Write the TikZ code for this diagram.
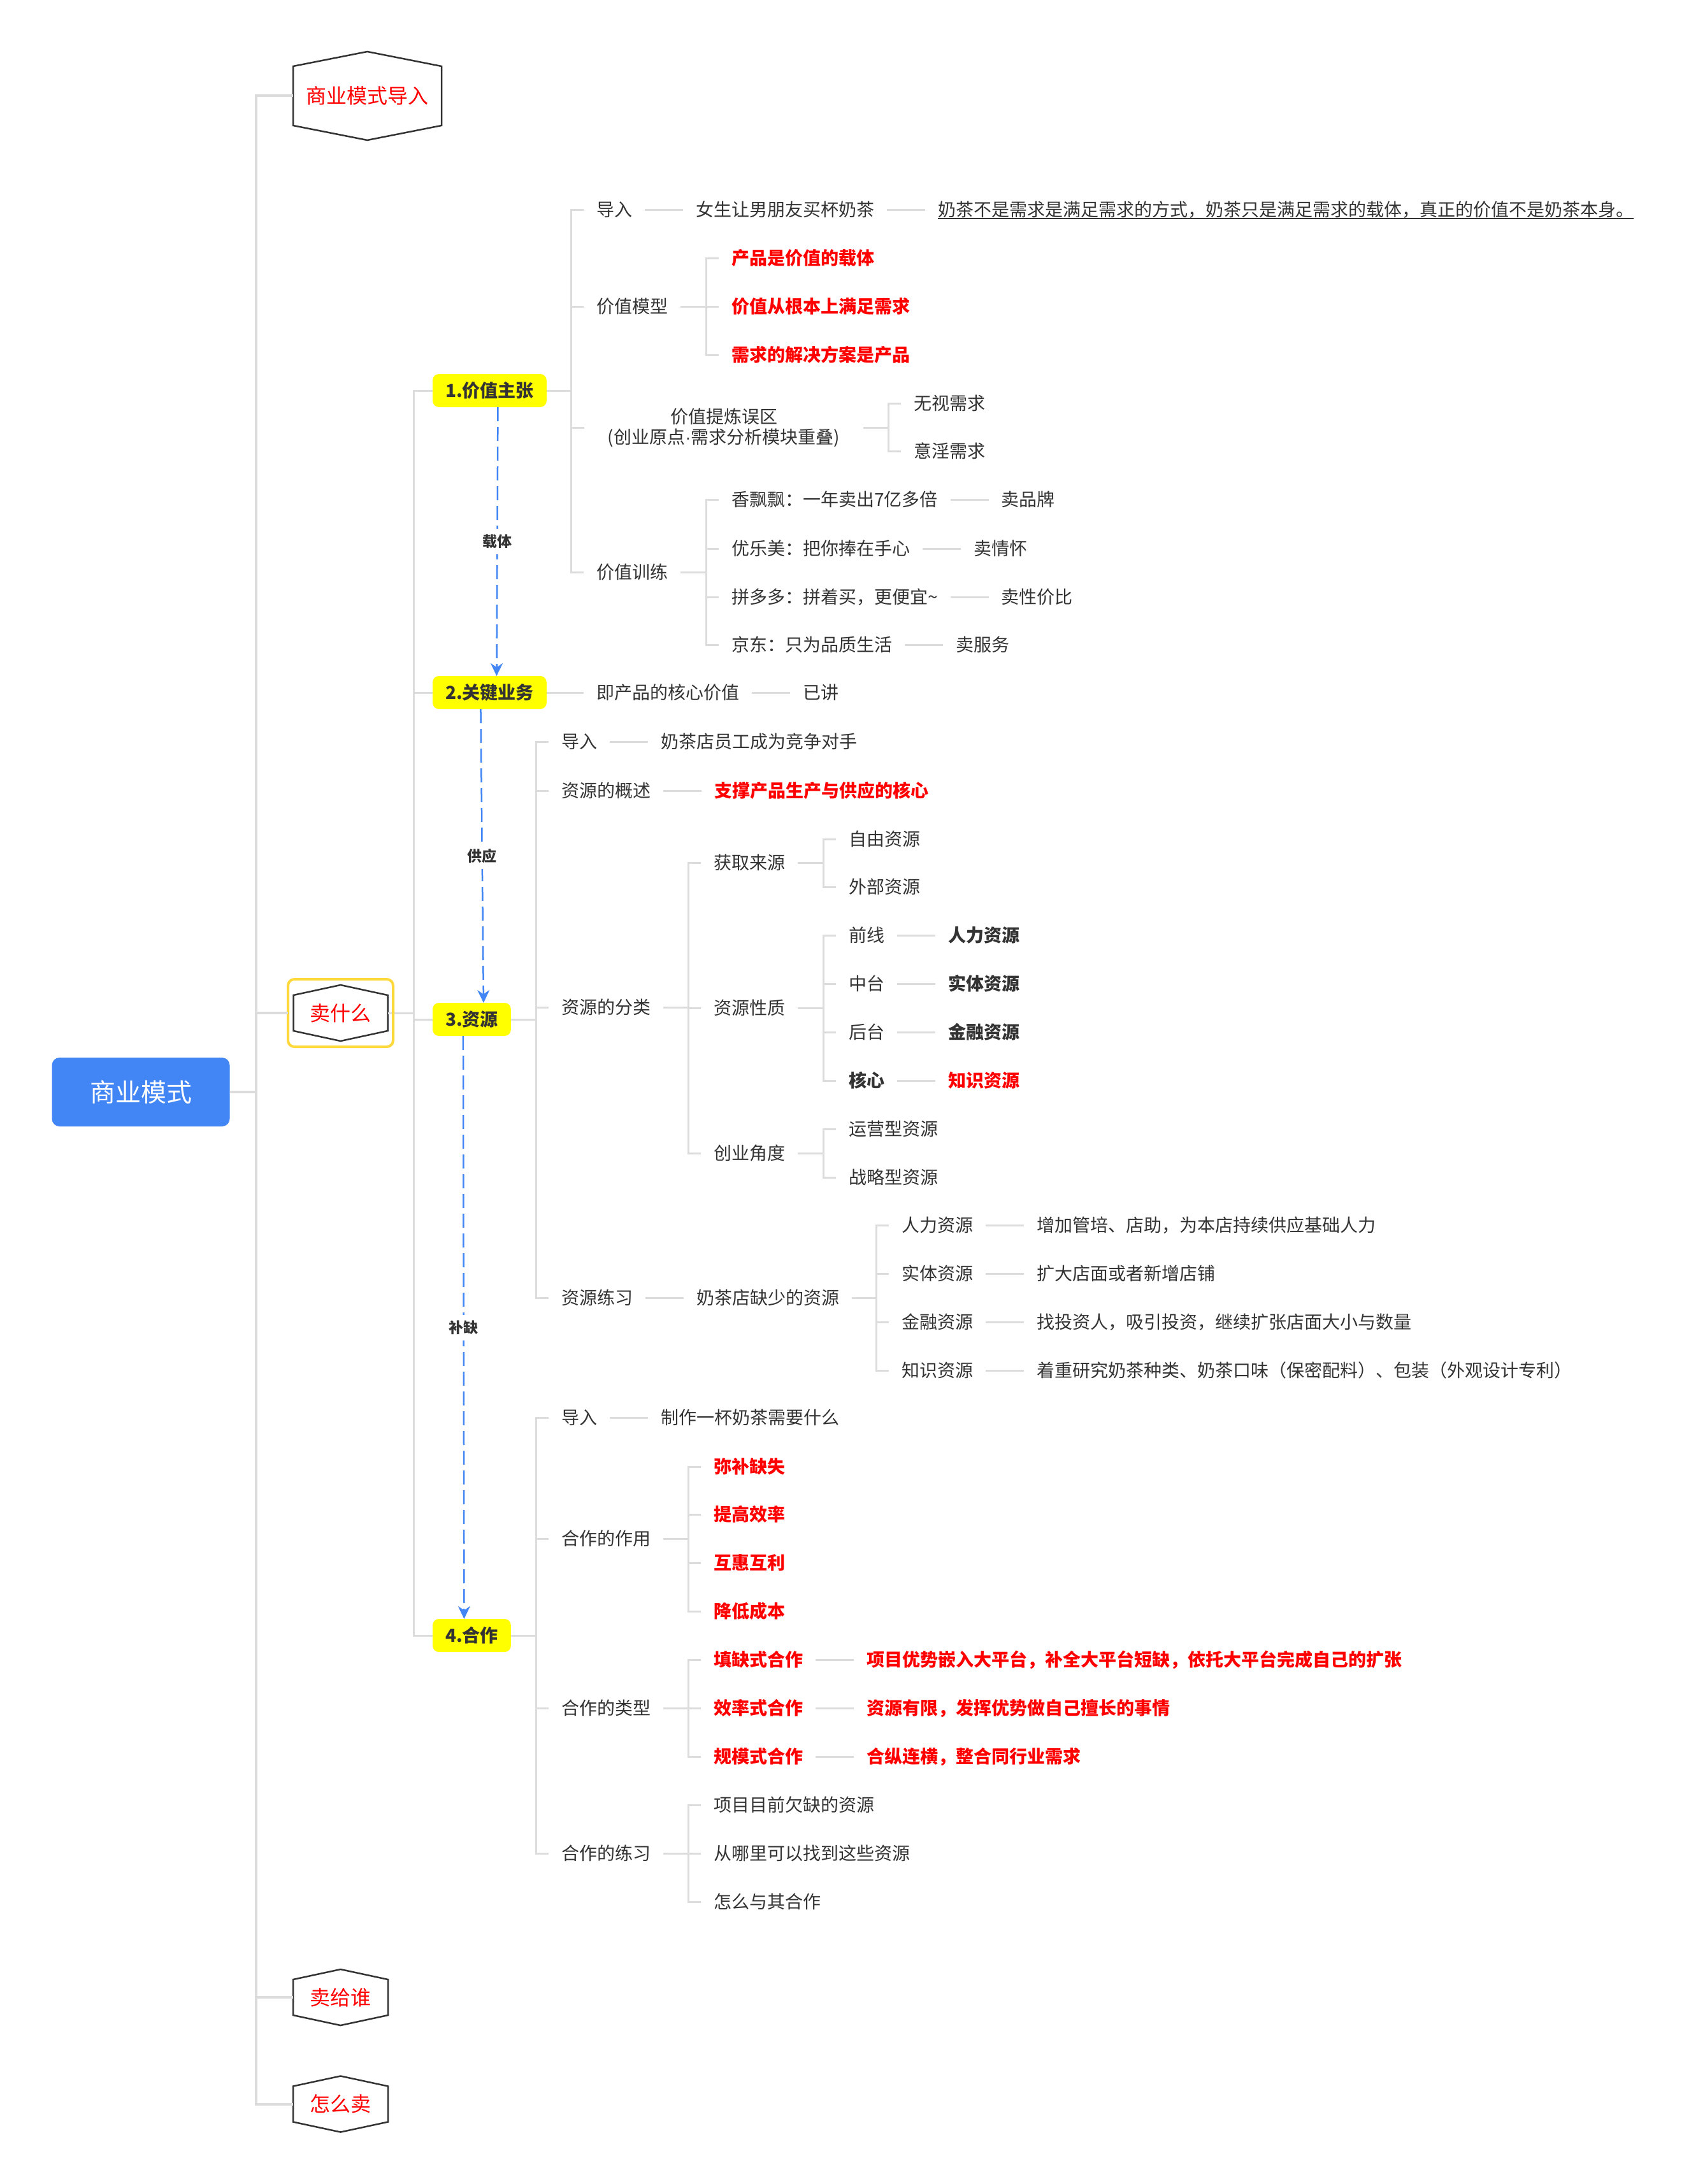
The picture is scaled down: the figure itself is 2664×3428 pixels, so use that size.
\documentclass[tikz,border=0pt]{standalone}
\usepackage{fontspec}
\setmainfont{Noto Sans CJK SC}
\newfontfamily\latinf{Liberation Sans}
\usetikzlibrary{positioning,arrows.meta}

\definecolor{ink}{HTML}{333333}
\definecolor{lnk}{HTML}{DCDCDC}
\definecolor{hot}{HTML}{FF0000}
\definecolor{blu}{HTML}{4286F5}
\definecolor{ylw}{HTML}{FFFF00}
\definecolor{gold}{HTML}{FFD93B}

% hexagon with vertical sides and pointed top/bottom around a node
\newcommand\drawhex[2]{\draw[hexline] (#1.north west) -- ([yshift=#2]#1.north) -- (#1.north east) -- (#1.south east) -- ([yshift=-#2]#1.south) -- (#1.south west) -- cycle;}

\tikzset{
  every node/.append style={outer sep=0pt},
  txt/.style={anchor=west, font=\fontsize{28}{33}\selectfont, text=ink,
    inner xsep=20pt, inner ysep=0pt, text height=24.6pt, text depth=3.4pt},
  hl/.style={txt, text=hot, font=\fontsize{28}{33}\selectfont\bfseries},
  bd/.style={txt, font=\fontsize{28}{33}\selectfont\bfseries},
  topic/.style={fill=ylw, rounded corners=10pt, anchor=west,
    font=\fontsize{28}{33}\selectfont\bfseries, text=ink, inner xsep=20pt,
    inner ysep=0pt, minimum height=52pt, text height=24.6pt, text depth=3.4pt},
  hexn/.style={inner sep=0pt, text=hot, font=\fontsize{32}{38}\selectfont},
  hexline/.style={draw=ink, line width=2.5pt, line join=miter},
  trunk/.style={draw=lnk, line width=4pt},
  conn/.style={draw=lnk, line width=3pt},
  flow/.style={draw=blu, line width=2.5pt, dash pattern=on 22pt off 9pt,
    -{Stealth[length=20pt,width=19pt]}},
  flowlbl/.style={fill=white, text=ink, font=\fontsize{23}{27}\selectfont\bfseries,
    inner xsep=4pt, inner ysep=9pt},
}

\begin{document}
\begin{tikzpicture}[x=1pt,y=-1pt]
\useasboundingbox (0,0) rectangle (2664,3428);
\fill[white] (0,0) rectangle (2664,3428);

% ---------- root and first level ----------
\node[fill=blu, rounded corners=12pt, minimum width=279pt, minimum height=108pt,
  text=white, font=\fontsize{40}{48}\selectfont, inner sep=0pt] (root) at (221,1714) {商业模式};

\node[hexn, minimum width=233pt, minimum height=93pt] (intro) at (576.5,150.5) {商业模式导入};
\drawhex{intro}{23pt}
\node[hexn, minimum width=148pt, minimum height=56pt] (sell) at (534.5,1590) {卖什么};
\drawhex{sell}{16pt}
\node[hexn, minimum width=149pt, minimum height=56pt] (whom) at (534.5,3135) {卖给谁};
\drawhex{whom}{16pt}
\node[hexn, minimum width=149pt, minimum height=56pt] (how) at (534.5,3302.5) {怎么卖};
\drawhex{how}{16pt}

\coordinate (rv) at (402,1714);
\draw[trunk] (root.east) -- (rv);
\draw[trunk] (rv) |- (intro.west);
\draw[trunk] (rv) |- (whom.west);
\draw[trunk] (rv) |- (how.west);

% ---------- second level ----------
\coordinate (tv) at (649,1590);
\draw[conn] (sell.east) -- (tv);
\node[draw=gold, line width=4pt, rounded corners=10pt, minimum width=165pt,
  minimum height=106pt] (sellbox) at (534.5,1590) {};
\draw[trunk] (rv) |- (sellbox.west);

\node[topic] (t1) at (679,613) {1.价值主张};
\node[topic] (t2) at (679,1087) {2.关键业务};
\node[topic] (t3) at (679,1600) {3.资源};
\node[topic] (t4) at (679,2567) {4.合作};
\foreach \t in {t1,t2,t3,t4} \draw[conn] (tv) |- (\t.west);

% ---------- 1. value proposition ----------
\coordinate (v1) at (896,613);
\draw[conn] (t1.east) -- (v1);

\node[txt] (a1) at (916,329) {导入};
\node[txt, right=60pt of a1] (a1a) {女生让男朋友买杯奶茶};
\node[txt, right=60pt of a1a] (a1b) {奶茶不是需求是满足需求的方式，奶茶只是满足需求的载体，真正的价值不是奶茶本身。};
\draw[conn] (a1.east) -- (a1a.west);
\draw[conn] (a1a.east) -- (a1b.west);
\draw[ink, line width=2pt] ([xshift=20pt,yshift=-3pt]a1b.base west) -- ([xshift=-20pt,yshift=-3pt]a1b.base east);

\node[txt] (a2) at (916,481) {价值模型};
\coordinate (v12) at (1108,481);
\draw[conn] (a2.east) -- (v12);
\node[hl] (a2a) at (1128,405) {产品是价值的载体};
\node[hl] (a2b) at (1128,481) {价值从根本上满足需求};
\node[hl] (a2c) at (1128,557) {需求的解决方案是产品};
\foreach \n in {a2a,a2b,a2c} \draw[conn] (v12) |- (\n.west);

\node[font=\fontsize{28}{32}\selectfont, text=ink, align=center, inner xsep=37pt,
  inner ysep=0pt] (a3) at (1136,671) {价值提炼误区\\(创业原点{\latinf ·}需求分析模块重叠)};
\coordinate (v13) at (1394,671);
\draw[conn] (a3.east) -- (v13);
\node[txt] (a3a) at (1414,633) {无视需求};
\node[txt] (a3b) at (1414,708) {意淫需求};
\foreach \n in {a3a,a3b} \draw[conn] (v13) |- (\n.west);

\node[txt] (a4) at (916,898) {价值训练};
\coordinate (v14) at (1108,898);
\draw[conn] (a4.east) -- (v14);
\node[txt] (a4a) at (1128,784) {香飘飘：一年卖出7亿多倍};
\node[txt] (a4b) at (1128,861) {优乐美：把你捧在手心};
\node[txt] (a4c) at (1128,937) {拼多多：拼着买，更便宜\textasciitilde};
\node[txt] (a4d) at (1128,1012) {京东：只为品质生活};
\node[txt, right=60pt of a4a] (a4a2) {卖品牌};
\node[txt, right=60pt of a4b] (a4b2) {卖情怀};
\node[txt, right=60pt of a4c] (a4c2) {卖性价比};
\node[txt, right=60pt of a4d] (a4d2) {卖服务};
\foreach \n in {a4a,a4b,a4c,a4d} {
  \draw[conn] (v14) |- (\n.west);
  \draw[conn] (\n.east) -- (\n2.west);
}

\foreach \n in {a1,a2,a4} \draw[conn] (v1) |- (\n.west);
\draw[conn] (v1) |- (a3.west);

% ---------- 2. key activities ----------
\node[txt] (b1) at (916,1087) {即产品的核心价值};
\node[txt, right=60pt of b1] (b1a) {已讲};
\draw[conn] (t2.east) -- (b1.west);
\draw[conn] (b1.east) -- (b1a.west);

% ---------- 3. resources ----------
\coordinate (v3) at (841,1600);
\draw[conn] (t3.east) -- (v3);

\node[txt] (c1) at (861,1164) {导入};
\node[txt, right=60pt of c1] (c1a) {奶茶店员工成为竞争对手};
\draw[conn] (c1.east) -- (c1a.west);

\node[txt] (c2) at (861,1241) {资源的概述};
\node[hl, right=60pt of c2] (c2a) {支撑产品生产与供应的核心};
\draw[conn] (c2.east) -- (c2a.west);

\node[txt] (c3) at (861,1581) {资源的分类};
\coordinate (v33) at (1080,1581);
\draw[conn] (c3.east) -- (v33);

\node[txt] (c31) at (1100,1354) {获取来源};
\coordinate (v331) at (1292,1354);
\draw[conn] (c31.east) -- (v331);
\node[txt] (c31a) at (1312,1317) {自由资源};
\node[txt] (c31b) at (1312,1392) {外部资源};
\foreach \n in {c31a,c31b} \draw[conn] (v331) |- (\n.west);

\node[txt] (c32) at (1100,1582) {资源性质};
\coordinate (v332) at (1292,1582);
\draw[conn] (c32.east) -- (v332);
\node[txt] (c32a) at (1312,1468) {前线};
\node[txt] (c32b) at (1312,1544) {中台};
\node[txt] (c32c) at (1312,1620) {后台};
\node[bd] (c32d) at (1312,1696) {核心};
\node[bd, right=60pt of c32a] (c32a2) {人力资源};
\node[bd, right=60pt of c32b] (c32b2) {实体资源};
\node[bd, right=60pt of c32c] (c32c2) {金融资源};
\node[hl, right=60pt of c32d] (c32d2) {知识资源};
\foreach \n in {c32a,c32b,c32c,c32d} {
  \draw[conn] (v332) |- (\n.west);
  \draw[conn] (\n.east) -- (\n2.west);
}

\node[txt] (c33) at (1100,1810) {创业角度};
\coordinate (v333) at (1292,1810);
\draw[conn] (c33.east) -- (v333);
\node[txt] (c33a) at (1312,1772) {运营型资源};
\node[txt] (c33b) at (1312,1848) {战略型资源};
\foreach \n in {c33a,c33b} \draw[conn] (v333) |- (\n.west);

\foreach \n in {c31,c32,c33} \draw[conn] (v33) |- (\n.west);

\node[txt] (c4) at (861,2037) {资源练习};
\node[txt, right=60pt of c4] (c4a) {奶茶店缺少的资源};
\draw[conn] (c4.east) -- (c4a.west);
\coordinate (v34) at (1375,2037);
\draw[conn] (c4a.east) -- (v34);
\node[txt] (c41) at (1395,1923) {人力资源};
\node[txt] (c42) at (1395,1999) {实体资源};
\node[txt] (c43) at (1395,2075) {金融资源};
\node[txt] (c44) at (1395,2151) {知识资源};
\node[txt, right=60pt of c41] (c412) {增加管培、店助，为本店持续供应基础人力};
\node[txt, right=60pt of c42] (c422) {扩大店面或者新增店铺};
\node[txt, right=60pt of c43] (c432) {找投资人，吸引投资，继续扩张店面大小与数量};
\node[txt, right=60pt of c44] (c442) {着重研究奶茶种类、奶茶口味（保密配料）、包装（外观设计专利）};
\foreach \n in {c41,c42,c43,c44} {
  \draw[conn] (v34) |- (\n.west);
  \draw[conn] (\n.east) -- (\n2.west);
}

\foreach \n in {c1,c2,c3,c4} \draw[conn] (v3) |- (\n.west);

% ---------- 4. cooperation ----------
\coordinate (v4) at (841,2567);
\draw[conn] (t4.east) -- (v4);

\node[txt] (d1) at (861,2225) {导入};
\node[txt, right=60pt of d1] (d1a) {制作一杯奶茶需要什么};
\draw[conn] (d1.east) -- (d1a.west);

\node[txt] (d2) at (861,2415) {合作的作用};
\coordinate (v42) at (1080,2415);
\draw[conn] (d2.east) -- (v42);
\node[hl] (d2a) at (1100,2302) {弥补缺失};
\node[hl] (d2b) at (1100,2377) {提高效率};
\node[hl] (d2c) at (1100,2453) {互惠互利};
\node[hl] (d2d) at (1100,2529) {降低成本};
\foreach \n in {d2a,d2b,d2c,d2d} \draw[conn] (v42) |- (\n.west);

\node[txt] (d3) at (861,2681) {合作的类型};
\coordinate (v43) at (1080,2681);
\draw[conn] (d3.east) -- (v43);
\node[hl] (d3a) at (1100,2605) {填缺式合作};
\node[hl] (d3b) at (1100,2681) {效率式合作};
\node[hl] (d3c) at (1100,2757) {规模式合作};
\node[hl, right=60pt of d3a] (d3a2) {项目优势嵌入大平台，补全大平台短缺，依托大平台完成自己的扩张};
\node[hl, right=60pt of d3b] (d3b2) {资源有限，发挥优势做自己擅长的事情};
\node[hl, right=60pt of d3c] (d3c2) {合纵连横，整合同行业需求};
\foreach \n in {d3a,d3b,d3c} {
  \draw[conn] (v43) |- (\n.west);
  \draw[conn] (\n.east) -- (\n2.west);
}

\node[txt] (d4) at (861,2909) {合作的练习};
\coordinate (v44) at (1080,2909);
\draw[conn] (d4.east) -- (v44);
\node[txt] (d4a) at (1100,2833) {项目目前欠缺的资源};
\node[txt] (d4b) at (1100,2909) {从哪里可以找到这些资源};
\node[txt] (d4c) at (1100,2985) {怎么与其合作};
\foreach \n in {d4a,d4b,d4c} \draw[conn] (v44) |- (\n.west);

\foreach \n in {d1,d2,d3,d4} \draw[conn] (v4) |- (\n.west);

% ---------- flow between the four parts ----------
\draw[flow] ([xshift=13pt]t1.south) -- node[flowlbl]{载体} ([xshift=11pt]t2.north);
\draw[flow] ([xshift=-14pt]t2.south) -- node[flowlbl]{供应} ([xshift=18.5pt]t3.north);
\draw[flow] ([xshift=-13.5pt]t3.south) -- node[flowlbl]{补缺} ([xshift=-12pt]t4.north);
\end{tikzpicture}
\end{document}
